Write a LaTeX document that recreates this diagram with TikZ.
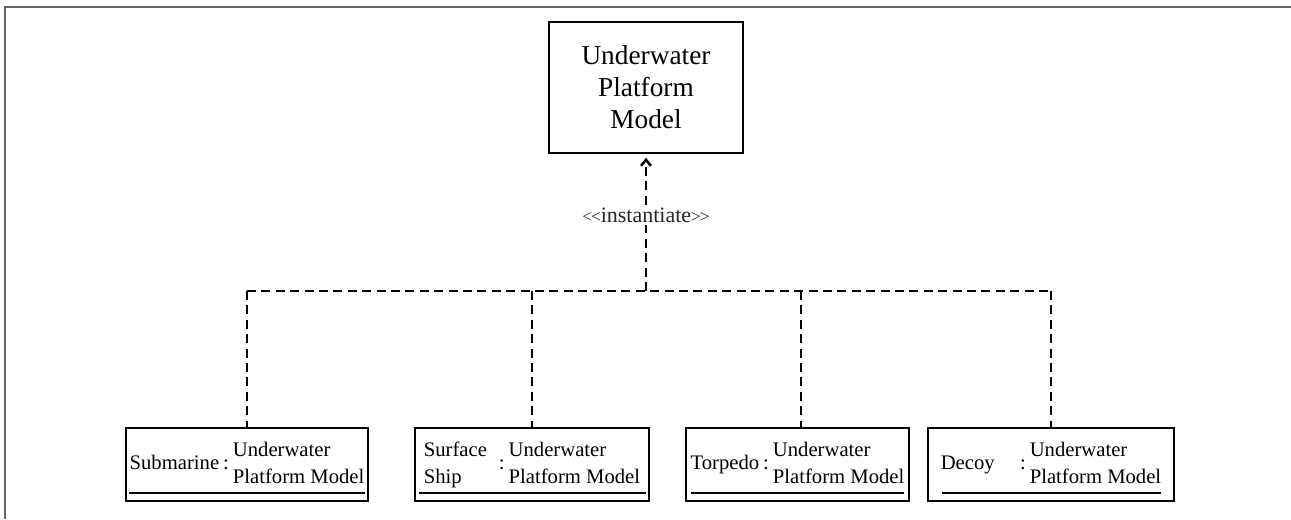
\documentclass[tikz,border=0pt]{standalone}
\usepackage{fontspec}
\setmainfont{Liberation Serif}
\usetikzlibrary{arrows.meta,calc}

\tikzset{
  classbox/.style={draw, line width=1.3pt, align=center, inner sep=0pt},
  instbox/.style={draw, line width=1.3pt, inner sep=0pt, minimum height=54.75pt, font=\fontsize{15.5}{20}\selectfont},
  link/.style={line width=1.9pt, dash pattern=on 6.8pt off 4pt},
  uline/.style={line width=1.4pt},
}
\newcommand{\instof}[1]{\raisebox{-2.5pt}{\begin{tabular}{@{}l@{}}#1\end{tabular}\hspace{3pt}:\hspace{3pt}\begin{tabular}{@{}l@{}}Underwater\\Platform Model\end{tabular}}}
\newcommand{\ang}[1]{{\fontsize{13}{13}\selectfont#1\kern-0.8pt#1}}

\begin{document}
\begin{tikzpicture}[x=0.75pt,y=-0.75pt]
    \useasboundingbox (0,0) rectangle (1291,519);

    % Frame
    \draw[black!60, line width=1.5pt] (5,519) -- (5,6.5) -- (1291,6.5);

    % Model class
    \node[classbox, minimum width=145.5pt, minimum height=98.25pt, font=\fontsize{20.5}{24}\selectfont] (upm) at (646,87.5) {Underwater\\Platform\\Model};

    % Instances
    \node[instbox, minimum width=181.5pt] (sub) at (247,464.5) {\instof{Submarine}};
    \node[instbox, minimum width=175.5pt] (ship) at (532,464.5) {\instof{Surface\hspace{6pt}\mbox{}\\Ship}};
    \node[instbox, minimum width=167.25pt] (torp) at (797.5,464.5) {\instof{Torpedo}};
    \node[instbox, minimum width=184.5pt] (decoy) at (1051,464.5) {\instof{Decoy\hspace{16pt}\mbox{}}};

    % Underlines
    \foreach \n/\l/\r in {sub/4/4, ship/5/4, torp/6/6, decoy/15/14}
        \draw[uline] ([shift={(\l,-9)}]\n.south west) -- ([shift={(-\r,-9)}]\n.south east);

    % Bus
    \coordinate (bus) at (646,291);
    \coordinate (jt) at (801,291);
    \draw[link] (sub.north |- bus) -- (decoy.north |- bus);
    \foreach \n in {sub,ship,decoy}
        \draw[link] (\n.north |- bus) -- (\n.north);
    \draw[link] (jt) -- (jt |- torp.north);

    % Instantiate
    \draw[link, -{Straight Barb[length=4.5pt,width=7.5pt]}, shorten >=3pt] (bus) -- node[pos=0.55, fill=white, inner sep=1.5pt, text=black!85, font=\fontsize{16.5}{18}\selectfont] (lbl) {\ang{\textless}instantiate\ang{\textgreater}} (upm.south);
\end{tikzpicture}
\end{document}
